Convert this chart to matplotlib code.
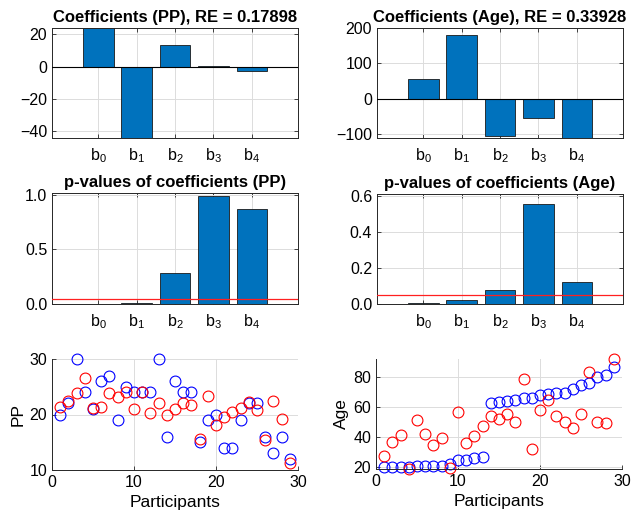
import matplotlib
matplotlib.use("Agg")
import matplotlib.pyplot as plt
import numpy as np

plt.rcParams["font.family"] = ["Liberation Sans", "DejaVu Sans"]
plt.rcParams["mathtext.fontset"] = "custom"
plt.rcParams["mathtext.rm"] = "Liberation Sans"

coef_names = ["b_0", "b_1", "b_2", "b_3", "b_4"]
coef_pp = [23.9, -44.1, 13.5, 0.5, -2.7]
coef_age = [55.5, 180, -105, -55, -110]
pval_pp = [0.001, 0.008, 0.28, 0.99, 0.87]
pval_age = [0.003, 0.022, 0.076, 0.554, 0.122]
alpha = 0.05

participants = list(range(1, 30))
pp_true = [20, 22, 30, 24, 21, 26, 27, 19, 25, 24, 24, 24, 30, 16, 26, 24, 24, 15,
           19, 20, 14, 14, 19, 22, 22, 16, 13, 16, 12]
pp_pred = [21.4, 22.4, 23.9, 26.5, 21.2, 21.3, 23.8, 23.1, 24.1, 21.0, 24.0, 20.2,
           22.0, 20.0, 21.0, 22.1, 21.8, 15.5, 23.4, 18.1, 19.5, 20.5, 21.1, 22.2,
           20.8, 15.4, 22.4, 19.1, 11.2]
age_true = [20, 20, 20, 20.4, 21, 21, 21, 21, 22, 25, 25, 26, 27, 63, 63.4, 64, 65,
            66, 66, 68, 69, 69.4, 69.4, 72, 75, 76.5, 80, 81.6, 87]
age_pred = [27.5, 36.8, 41.7, 19, 51.7, 42, 35, 39.7, 19.6, 57.2, 36.4, 40.8, 47.7,
            54, 52.3, 55.4, 50.6, 79, 32.2, 58.5, 65, 54, 50.3, 46, 55.4, 83.8, 50,
            49.7, 92.4]

W, H = 632, 516
fig = plt.figure(figsize=(W / 100, H / 100), dpi=100)


def box(x0, y0, x1, y1):
    return [x0 / W, 1 - y1 / H, (x1 - x0) / W, (y1 - y0) / H]


dark = "#262626"
grid_c = "#dcdcdc"


def style(ax, full_box):
    ax.set_axisbelow(True)
    ax.grid(True, color=grid_c, linewidth=0.7)
    ax.tick_params(direction="in", length=3, width=0.6, colors=dark,
                   labelsize=11.5, labelcolor="black",
                   top=full_box, right=full_box)
    for name, sp in ax.spines.items():
        sp.set_linewidth(0.7)
        sp.set_color(dark)
    if not full_box:
        ax.spines["top"].set_visible(False)
        ax.spines["right"].set_visible(False)


def bar_panel(rect, vals, title, ylim, yticks, pline=False):
    ax = fig.add_axes(rect)
    x = np.arange(1, len(vals) + 1)
    ax.bar(x, vals, width=0.8, color="#0072BD", edgecolor="#1a1a1a", linewidth=0.6)
    if pline:
        ax.axhline(alpha, color="#ff2020", linewidth=0.9, zorder=4)
    else:
        ax.axhline(0, color="black", linewidth=0.8, zorder=4)
    ax.set_xlim(-0.2, 6.2)
    ax.set_ylim(*ylim)
    ax.set_yticks(yticks)
    ax.set_xticks(x, [f"$\\mathregular{{{n}}}$" for n in coef_names])
    ax.set_title(title, fontsize=12, fontweight="bold", pad=4)
    style(ax, True)
    ax.tick_params(axis="x", pad=6)
    return ax


bar_panel(box(52, 28, 298, 138), coef_pp, "Coefficients (PP), RE = 0.17898",
          (-44.1, 23.9), [-40, -20, 0, 20])
bar_panel(box(377, 28, 623, 138), coef_age, "Coefficients (Age), RE = 0.33928",
          (-110, 200), [-100, 0, 100, 200])
bar_panel(box(52, 193, 298, 304), pval_pp, "p-values of coefficients (PP)",
          (0, 1.015), [0, 0.5, 1], pline=True)
bar_panel(box(377, 194, 623, 304), pval_age, "p-values of coefficients (Age)",
          (0, 0.611), [0, 0.2, 0.4, 0.6], pline=True)


def scatter_panel(rect, true_vals, pred_vals, ylabel, ylim, yticks):
    ax = fig.add_axes(rect)
    ax.plot(participants, true_vals, "o", mfc="none", mec="blue", ms=7.8, mew=0.8,
            clip_on=False)
    ax.plot(participants, pred_vals, "o", mfc="none", mec="red", ms=7.8, mew=0.8,
            clip_on=False)
    ax.set_xlim(0, 30)
    ax.set_ylim(*ylim)
    ax.set_xticks([0, 10, 20, 30])
    ax.set_yticks(yticks)
    ax.set_xlabel("Participants", fontsize=12.5, labelpad=4)
    ax.set_ylabel(ylabel, fontsize=12.5, labelpad=3)
    style(ax, False)
    return ax


scatter_panel(box(52, 359, 298, 470), pp_true, pp_pred, "PP", (10, 30), [10, 20, 30])
scatter_panel(box(376, 359, 622, 469), age_true, age_pred, "Age", (19, 92.2),
              [20, 40, 60, 80])

fig.savefig("out.png", dpi=100)
